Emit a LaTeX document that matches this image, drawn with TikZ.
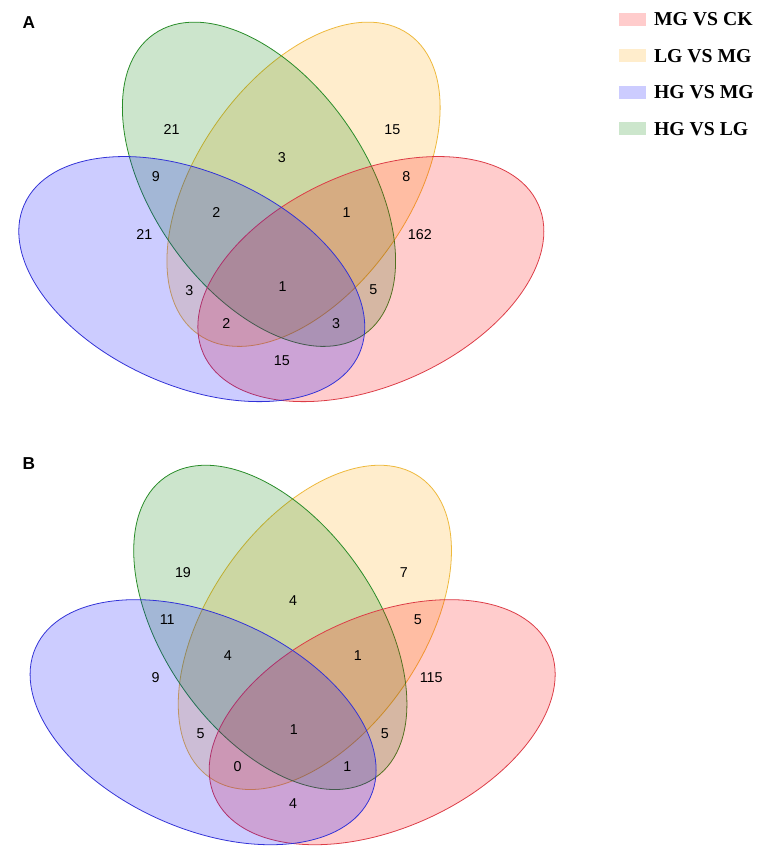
\documentclass[tikz,border=0pt]{standalone}
\usepackage{fontspec}
\setmainfont{Liberation Serif}
\newfontfamily\numfont{Liberation Sans}
\usetikzlibrary{positioning}

\definecolor{mgck}{RGB}{255,0,0}
\definecolor{lgmg}{RGB}{255,165,0}
\definecolor{hgmg}{RGB}{0,0,255}
\definecolor{hglg}{RGB}{0,128,0}
\definecolor{mgckline}{RGB}{220,60,70}
\definecolor{lgmgline}{RGB}{238,185,60}
\definecolor{hgmgline}{RGB}{50,50,215}
\definecolor{hglgline}{RGB}{40,140,40}

\tikzset{
  vset/.style={line width=0.8pt, fill opacity=0.2},
  num/.style={font=\numfont\fontsize{14.5}{16}\selectfont, inner sep=0pt},
  panel/.style={font=\numfont\bfseries\fontsize{17.5}{20}\selectfont, inner sep=0pt},
  swatch/.style={minimum width=27pt, minimum height=13pt, inner sep=0pt},
  keytext/.style={font=\bfseries\fontsize{20}{22}\selectfont, inner sep=0pt, anchor=west}
}

% four ellipses of one panel
\newcommand{\vennsets}{%
  \draw[vset, draw=lgmgline, fill=lgmg, shift={(292.7,180.3)}, rotate=55] (0,0) ellipse [x radius=186pt, y radius=108pt];
  \draw[vset, draw=hglgline, fill=hglg, shift={(247.5,180.3)}, rotate=125] (0,0) ellipse [x radius=186pt, y radius=108pt];
  \draw[vset, draw=mgckline, fill=mgck, shift={(361,276.5)}, rotate=24] (0,0) ellipse [x radius=186pt, y radius=108pt];
  \draw[vset, draw=hgmgline, fill=hgmg, shift={(179.3,276.5)}, rotate=-24] (0,0) ellipse [x radius=186pt, y radius=108pt];
}

\begin{document}
\begin{tikzpicture}[x=1pt, y=-1pt]
\fill[white] (0,0) rectangle (754,861);

\node[panel] (pA) at (14,16) {A};
\vennsets
\foreach \x/\y/\v [count=\i] in {158.9/125/21, 382.9/125/15, 270.7/153.3/3, 142.9/172.3/9,
    397.1/172.3/8, 204.3/209/2, 336.4/209/1, 131.1/231.7/21, 410.7/231.7/162,
    271.4/284.3/1, 176.8/287.7/3, 363.6/287.7/5, 214.3/321.7/2, 325.7/321.7/3, 270.7/359/15}
  \node[num] (a\i) at (\x,\y) {\v};

\node[panel] (pB) at (14,464) {B};
\begin{scope}[shift={(11.5,449.6)}]
\vennsets
\foreach \x/\y/\v [count=\i] in {158.9/125/19, 382.9/125/7, 270.7/153.3/4, 142.9/172.3/11,
    397.1/172.3/5, 204.3/209/4, 336.4/209/1, 131.1/231.7/9, 410.7/231.7/115,
    271.4/284.3/1, 176.8/287.7/5, 363.6/287.7/5, 214.3/321.7/0, 325.7/321.7/1, 270.7/359/4}
  \node[num] (b\i) at (\x,\y) {\v};
\end{scope}

% legend
\foreach \c/\t [count=\i] in {mgck/MG VS CK, lgmg/LG VS MG, hgmg/HG VS MG, hglg/HG VS LG} {
  \node[swatch, fill=\c!20] (key\i) at (626.5,{13+37*(\i-1)}) {};
  \node[keytext, right=8pt of key\i] (lab\i) {\t};
}
\end{tikzpicture}
\end{document}
